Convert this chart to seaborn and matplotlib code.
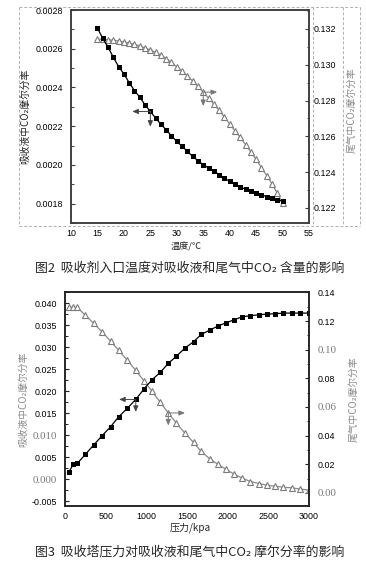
import numpy as np
import pandas as pd
import matplotlib
matplotlib.use("Agg")
import matplotlib.pyplot as plt
import matplotlib.transforms as mtransforms
from matplotlib.ticker import MultipleLocator
from matplotlib.lines import Line2D
import seaborn as sns

# ---------------- data: figure 2 (temperature) ----------------
temp_liquid = [15, 16, 17, 18, 19, 20, 21, 22, 23, 24, 25, 26, 27, 28, 29, 30, 31, 32,
               33, 34, 35, 36, 37, 38, 39, 40, 41, 42, 43, 44, 45, 46, 47, 48, 49, 50]
co2_liquid_t = [0.002706, 0.002654, 0.002608, 0.002556, 0.002508, 0.002470, 0.002425,
                0.002384, 0.002350, 0.002310, 0.002276, 0.002242, 0.002210, 0.002181,
                0.002150, 0.002121, 0.002096, 0.002070, 0.002044, 0.002022, 0.002001,
                0.001984, 0.001967, 0.001950, 0.001932, 0.001915, 0.001903, 0.001884,
                0.001876, 0.001864, 0.001853, 0.001846, 0.001836, 0.001829, 0.001821,
                0.001812]
temp_gas = temp_liquid
co2_gas_t = [0.13144, 0.13142, 0.13140, 0.13137, 0.13133, 0.13127, 0.13122, 0.13114,
             0.13105, 0.13095, 0.13082, 0.13069, 0.13054, 0.13035, 0.13013, 0.12988,
             0.12964, 0.12938, 0.12909, 0.12879, 0.12847, 0.12815, 0.12781, 0.12746,
             0.12708, 0.12669, 0.12631, 0.12594, 0.12554, 0.12513, 0.12471, 0.12426,
             0.12381, 0.12334, 0.12283, 0.12227]

# ---------------- data: figure 3 (pressure) ----------------
pressure = [50, 100, 150, 250, 355, 455, 560, 660, 765, 870, 970, 1065, 1170, 1270,
            1370, 1475, 1580, 1675, 1780, 1880, 1980, 2080, 2180, 2280, 2385, 2485,
            2585, 2685, 2790, 2890, 3000]
co2_liquid_p = [0.00168, 0.00335, 0.00358, 0.00563, 0.00783, 0.00988, 0.01193, 0.01420,
                0.01610, 0.01815, 0.02050, 0.02255, 0.02429, 0.02634, 0.02801, 0.02983,
                0.03127, 0.03294, 0.03393, 0.03484, 0.03560, 0.03628, 0.03697, 0.03719,
                0.03742, 0.03757, 0.03765, 0.03780, 0.03780, 0.03780, 0.03780]
co2_gas_p = [0.1296, 0.1296, 0.1296, 0.1240, 0.1183, 0.1125, 0.1060, 0.0995, 0.0926,
             0.0856, 0.0782, 0.0713, 0.0634, 0.0558, 0.0486, 0.0417, 0.0352, 0.0289,
             0.0238, 0.0199, 0.0164, 0.0130, 0.0102, 0.0079, 0.0065, 0.0053, 0.0046,
             0.0039, 0.0035, 0.0026, 0.0019]

# ---------------- text ----------------
xticks1 = [10, 15, 20, 25, 30, 35, 40, 45, 50, 55]
yticks1_left = [0.0018, 0.0020, 0.0022, 0.0024, 0.0026, 0.0028]
yticks1_right = [0.122, 0.124, 0.126, 0.128, 0.130, 0.132]
xticks2 = [0, 500, 1000, 1500, 2000, 2500, 3000]
yticks2_left = [-0.005, 0.000, 0.005, 0.010, 0.015, 0.020, 0.025, 0.030, 0.035, 0.040]
yticks2_right = [0.00, 0.02, 0.04, 0.06, 0.08, 0.10, 0.12, 0.14]
xlabel1 = "温度/℃"
xlabel2 = "压力/kpa"
ylabel_left = "吸收液中CO₂摩尔分率"
ylabel_right = "尾气中CO₂摩尔分率"
caption1 = "图2  吸收剂入口温度对吸收液和尾气中CO₂ 含量的影响"
caption2 = "图3  吸收塔压力对吸收液和尾气中CO₂ 摩尔分率的影响"

sns.set_style("white")
plt.rcParams["font.family"] = ["Noto Sans CJK SC", "DejaVu Sans"]

W, H = 366, 568
fig = plt.figure(figsize=(W / 100, H / 100), dpi=100)


def rect(l, t, r, b):
    return [l / W, 1 - b / H, (r - l) / W, (b - t) / H]


SQ = dict(marker="s", markersize=3.6, markeredgewidth=0, color="black", linewidth=0.9)
TR = dict(marker="^", markersize=4.2, markerfacecolor="white", markeredgecolor="#7a7a7a",
          markeredgewidth=0.8, color="#8a8a8a", linewidth=0.9)

tick_font = dict(family="Liberation Sans", size=6.4)


def style_axis(ax, spine_color):
    for s in ax.spines.values():
        s.set_color(spine_color)
        s.set_linewidth(1.1)
    ax.tick_params(which="both", direction="in", colors=spine_color, labelcolor="black")
    ax.tick_params(which="major", length=3.2, width=0.8)
    ax.tick_params(which="minor", length=1.8, width=0.7)


def arrow(ax, x0, y0, dx, dy, color):
    head = mtransforms.offset_copy(ax.transData, fig=fig, x=dx, y=dy, units="points")
    ax.annotate("", xy=(x0, y0), xycoords=head, xytext=(x0, y0), textcoords=ax.transData,
                arrowprops=dict(arrowstyle="-|>,head_length=0.35,head_width=0.15",
                                color=color, lw=0.7, shrinkA=0, shrinkB=0))


# ================= chart 1 =================
ax1 = fig.add_axes(rect(71, 10, 309, 223))
ax1b = ax1.twinx()
df1a = pd.DataFrame({"x": temp_liquid, "y": co2_liquid_t})
df1b = pd.DataFrame({"x": temp_gas, "y": co2_gas_t})
sns.lineplot(data=df1b, x="x", y="y", ax=ax1b, **TR)
sns.lineplot(data=df1a, x="x", y="y", ax=ax1, **SQ)
ax1.set_zorder(ax1b.get_zorder() + 1)
ax1.patch.set_visible(False)

ax1.set_xlim(10, 55)
ax1.set_ylim(0.00170, 0.00280)
ax1b.set_ylim(0.12116, 0.13306)
ax1.set_xticks(xticks1)
ax1.set_xticklabels([str(v) for v in xticks1], **tick_font)
ax1.xaxis.set_minor_locator(MultipleLocator(2.5))
ax1.set_yticks(yticks1_left)
ax1.set_yticklabels([f"{v:.4f}" for v in yticks1_left], **tick_font)
ax1.yaxis.set_minor_locator(MultipleLocator(0.0001))
ax1b.set_yticks(yticks1_right)
ax1b.set_yticklabels([f"{v:.3f}" for v in yticks1_right], **tick_font)
ax1b.yaxis.set_minor_locator(MultipleLocator(0.001))
for a in (ax1, ax1b):
    style_axis(a, "#3c3c3c")
ax1.tick_params(axis="x", pad=4)
ax1.tick_params(axis="y", pad=6)
ax1b.tick_params(axis="y", pad=3)
ax1.set_xlabel("")
ax1.set_ylabel("")
ax1b.set_ylabel("")

i = temp_liquid.index(25)
arrow(ax1, temp_liquid[i], co2_liquid_t[i], -13, 0, "#444444")
arrow(ax1, temp_liquid[i], co2_liquid_t[i], 0, -11, "#444444")
j = temp_gas.index(35)
arrow(ax1b, temp_gas[j], co2_gas_t[j], 10, 0, "#777777")
arrow(ax1b, temp_gas[j], co2_gas_t[j], 0, -10, "#777777")

fig.text(186 / W, 1 - 247 / H, xlabel1, ha="center", va="center", fontsize=6.6)
fig.text(25 / W, 1 - 116 / H, ylabel_left, ha="center", va="center", rotation=90,
         fontsize=7, color="#222222")
fig.text(352 / W, 1 - 110 / H, ylabel_right, ha="center", va="center", rotation=90,
         fontsize=7, color="#8a8a8a")
fig.text(190 / W, 1 - 268 / H, caption1, ha="center", va="center", fontsize=9.3)

# dashed frames
dash = dict(color="#b0b0b0", lw=0.7, ls=(0, (3, 2)), transform=fig.transFigure)
for (xa, ya, xb, yb) in [(19, 7, 360, 7), (19, 226, 360, 226), (19, 7, 19, 226),
                         (360, 7, 360, 226), (313, 7, 313, 226), (343, 7, 343, 226)]:
    fig.add_artist(Line2D([xa / W, xb / W], [1 - ya / H, 1 - yb / H], **dash))

# ================= chart 2 =================
ax2 = fig.add_axes(rect(65, 292, 309, 506))
ax2b = ax2.twinx()
df2a = pd.DataFrame({"x": pressure, "y": co2_liquid_p})
df2b = pd.DataFrame({"x": pressure, "y": co2_gas_p})
sns.lineplot(data=df2b, x="x", y="y", ax=ax2b, **TR)
sns.lineplot(data=df2a, x="x", y="y", ax=ax2, **SQ)
ax2.set_zorder(ax2b.get_zorder() + 1)
ax2.patch.set_visible(False)

ax2.set_xlim(0, 3000)
ax2.set_ylim(-0.0061, 0.0426)
ax2b.set_ylim(-0.0092, 0.1403)
ax2.set_xticks(xticks2)
ax2.set_xticklabels([str(v) for v in xticks2], **tick_font)
ax2.xaxis.set_minor_locator(MultipleLocator(250))
ax2.set_yticks(yticks2_left)
ax2.set_yticklabels([f"{v:.3f}" for v in yticks2_left], **tick_font)
ax2.yaxis.set_minor_locator(MultipleLocator(0.0025))
ax2b.set_yticks(yticks2_right)
ax2b.set_yticklabels([f"{v:.2f}" for v in yticks2_right], **tick_font)
ax2b.yaxis.set_minor_locator(MultipleLocator(0.01))
for a in (ax2, ax2b):
    style_axis(a, "#222222")
ax2.tick_params(axis="x", pad=4)
ax2.tick_params(axis="y", pad=6)
ax2b.tick_params(axis="y", pad=6)
ax2.set_xlabel("")
ax2.set_ylabel("")
ax2b.set_ylabel("")

# serif grey labels (as in the scanned original)
for lab in ax2.get_yticklabels():
    if lab.get_text() in ("0.010", "0.000"):
        lab.set_fontfamily("Liberation Serif")
        lab.set_fontsize(7.8)
        lab.set_color("#777777")
for lab in ax2b.get_yticklabels():
    if lab.get_text() in ("0.10", "0.06", "0.00"):
        lab.set_fontfamily("Liberation Serif")
        lab.set_fontsize(7.8)
        lab.set_color("#777777")

k = pressure.index(870)
arrow(ax2, pressure[k], co2_liquid_p[k], -12, 0, "#444444")
arrow(ax2, pressure[k], co2_liquid_p[k], 0, -9, "#444444")
m = pressure.index(1270)
arrow(ax2b, pressure[m], co2_gas_p[m], 12, 0, "#777777")
arrow(ax2b, pressure[m], co2_gas_p[m], 0, -9, "#777777")

fig.text(190 / W, 1 - 528 / H, xlabel2, ha="center", va="center", fontsize=7.2)
fig.text(23 / W, 1 - 399 / H, ylabel_left, ha="center", va="center", rotation=90,
         fontsize=7, color="#8a8a8a")
fig.text(354 / W, 1 - 399 / H, ylabel_right, ha="center", va="center", rotation=90,
         fontsize=7, color="#8a8a8a")
fig.text(190 / W, 1 - 552 / H, caption2, ha="center", va="center", fontsize=9.3)

fig.savefig("out.png", dpi=100)
